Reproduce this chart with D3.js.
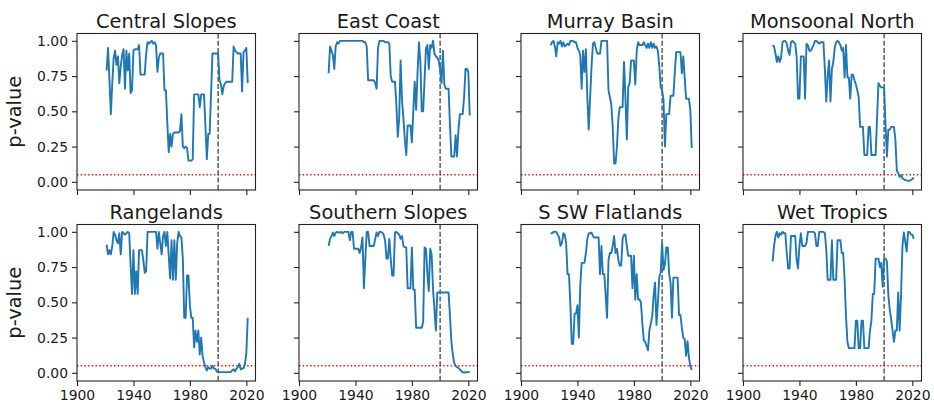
<!DOCTYPE html>
<html>
<head>
    <title>p-value by region</title>
    <script src="https://d3js.org/d3.v7.min.js"></script>
    <style>
        body {
            margin: 0;
            background-color: white;
        }
        svg text {
            font-family: "DejaVu Sans", sans-serif;
            fill: #1a1a1a;
        }
    </style>
</head>
<body>
    <div id="chart"></div>
    <script>
        // Chart data: one p-value per year, 1921-2021
        const startYear = 1921;
        const regions = ['Central Slopes', 'East Coast', 'Murray Basin', 'Monsoonal North',
                         'Rangelands', 'Southern Slopes', 'S SW Flatlands', 'Wet Tropics'];
        const centralSlopes = [
            0.79, 0.95, 0.72, 0.48, 0.70, 0.88, 0.93, 0.83, 0.89, 0.70,
            0.82, 0.90, 0.94, 0.66, 0.93, 0.79, 0.91, 0.63, 0.65, 0.93,
            0.94, 0.94, 0.94, 0.97, 0.76, 0.76, 0.76, 0.76, 0.91, 0.99,
            0.98, 0.99, 1.00, 0.98, 0.99, 0.97, 0.78, 0.88, 0.91, 0.91,
            0.91, 0.65, 0.65, 0.42, 0.21, 0.34, 0.25, 0.34, 0.35, 0.35,
            0.35, 0.35, 0.36, 0.48, 0.25, 0.24, 0.25, 0.24, 0.15, 0.15,
            0.15, 0.16, 0.62, 0.62, 0.62, 0.62, 0.53, 0.62, 0.62, 0.62,
            0.40, 0.16, 0.34, 0.34, 0.62, 0.91, 0.91, 0.91, 0.91, 0.91,
            0.72, 0.69, 0.62, 0.68, 0.70, 0.71, 0.71, 0.71, 0.71, 0.71,
            0.96, 0.93, 0.92, 0.91, 0.91, 0.91, 0.64, 0.92, 0.93, 0.95, 0.70
        ];
        const eastCoast = [
            0.77, 0.96, 0.93, 0.90, 0.80, 0.96, 0.99, 0.98, 1.00, 1.00,
            1.00, 1.00, 1.00, 1.00, 1.00, 1.00, 1.00, 1.00, 1.00, 1.00,
            1.00, 1.00, 1.00, 1.00, 1.00, 0.99, 0.99, 0.96, 0.72, 0.72,
            0.72, 0.72, 0.72, 0.70, 0.66, 0.95, 1.00, 1.00, 1.00, 1.00,
            0.99, 0.99, 0.99, 0.98, 0.75, 0.71, 0.71, 0.71, 0.55, 0.32,
            0.45, 0.86, 0.58, 0.45, 0.30, 0.19, 0.40, 0.40, 0.40, 0.28,
            0.50, 0.71, 0.51, 0.77, 0.99, 0.85, 0.50, 0.50, 0.73, 0.95,
            0.97, 0.80, 0.97, 0.95, 1.00, 0.91, 0.89, 0.88, 0.86, 0.80,
            0.70, 0.93, 0.69, 0.66, 0.66, 0.66, 0.40, 0.18, 0.18, 0.18,
            0.33, 0.18, 0.37, 0.48, 0.48, 0.48, 0.60, 0.80, 0.80, 0.78, 0.47
        ];
        const murrayBasin = [
            0.97, 0.99, 1.00, 0.96, 0.89, 0.99, 0.98, 1.00, 0.96, 0.99,
            0.96, 0.97, 0.98, 0.97, 1.00, 1.00, 1.00, 0.99, 0.99, 0.95,
            0.93, 0.90, 0.66, 0.93, 0.78, 0.94, 0.60, 0.37, 0.60, 0.82,
            0.98, 0.99, 0.95, 0.91, 0.91, 0.91, 1.00, 1.00, 1.00, 1.00,
            1.00, 0.65, 0.60, 0.55, 0.39, 0.13, 0.13, 0.25, 0.45, 0.53,
            0.53, 0.53, 0.85, 0.60, 0.30, 0.67, 0.70, 0.86, 0.86, 0.86,
            0.69, 0.93, 0.99, 0.97, 0.97, 0.97, 0.99, 0.97, 0.95, 0.98,
            0.95, 0.99, 0.95, 0.98, 0.95, 0.96, 0.93, 0.82, 0.67, 0.65,
            0.58, 0.25, 0.48, 0.48, 0.48, 0.61, 0.61, 0.61, 0.78, 0.92,
            0.92, 0.92, 0.92, 0.77, 0.89, 0.74, 0.59, 0.59, 0.59, 0.51, 0.24
        ];
        const monsoonalNorth = [
            0.97, 0.96, 0.91, 0.85, 0.89, 0.85, 0.88, 0.99, 1.00, 1.00,
            0.98, 0.93, 0.90, 0.99, 1.00, 0.99, 0.98, 0.89, 0.59, 0.59,
            0.89, 0.89, 0.89, 0.59, 0.98, 0.97, 0.93, 0.93, 0.95, 0.97,
            1.00, 1.00, 0.99, 0.98, 0.99, 0.99, 0.99, 0.80, 0.57, 0.75,
            0.86, 0.57, 0.80, 0.85, 0.95, 0.99, 1.00, 0.99, 0.97, 0.93,
            0.95, 0.74, 0.97, 0.74, 0.74, 0.59, 0.76, 0.76, 0.72, 0.69,
            0.65, 0.60, 0.39, 0.39, 0.39, 0.19, 0.19, 0.19, 0.39, 0.39,
            0.19, 0.19, 0.19, 0.19, 0.45, 0.70, 0.68, 0.67, 0.67, 0.67,
            0.40, 0.18, 0.37, 0.37, 0.39, 0.39, 0.39, 0.30, 0.08, 0.06,
            0.035, 0.047, 0.024, 0.018, 0.012, 0.01, 0.007, 0.008, 0.012, 0.02, 0.03
        ];
        const rangelands = [
            0.91, 0.84, 0.87, 0.84, 0.90, 1.00, 0.98, 0.94, 0.92, 0.99,
            0.84, 1.00, 0.99, 0.98, 0.99, 1.00, 0.99, 0.76, 0.56, 0.87,
            0.56, 0.72, 0.56, 0.87, 0.87, 0.87, 0.80, 0.71, 0.72, 1.00,
            1.00, 1.00, 1.00, 1.00, 1.00, 1.00, 0.88, 1.00, 0.92, 0.84,
            0.97, 1.00, 0.90, 1.00, 0.83, 0.67, 0.94, 0.66, 0.94, 0.66,
            0.92, 1.00, 0.97, 0.96, 0.81, 0.39, 0.39, 0.69, 0.69, 0.48,
            0.39, 0.39, 0.18, 0.30, 0.22, 0.30, 0.13, 0.25, 0.12, 0.075,
            0.04, 0.017, 0.04, 0.03, 0.03, 0.05, 0.03, 0.03, 0.01, 0.005,
            0.005, 0.005, 0.005, 0.005, 0.005, 0.005, 0.005, 0.005, 0.006, 0.017,
            0.025, 0.01, 0.03, 0.04, 0.064, 0.025, 0.03, 0.033, 0.06, 0.14, 0.39
        ];
        const southernSlopes = [
            0.90, 0.95, 0.97, 0.995, 0.97, 0.995, 1.00, 0.995, 0.995, 1.00,
            0.99, 1.00, 1.00, 1.00, 1.00, 0.94, 1.00, 1.00, 0.88, 0.88,
            0.88, 0.88, 0.85, 0.89, 0.96, 0.60, 0.81, 1.00, 1.00, 0.90,
            0.90, 0.90, 0.90, 0.95, 0.995, 0.97, 1.00, 1.00, 0.995, 0.98,
            0.94, 0.81, 0.81, 0.95, 0.81, 0.69, 0.69, 0.995, 1.00, 0.99,
            0.98, 0.95, 0.97, 0.90, 0.89, 0.89, 0.60, 0.60, 0.60, 0.89,
            0.59, 0.59, 0.32, 0.32, 0.32, 0.32, 0.32, 0.36, 0.89, 0.88,
            0.70, 0.58, 0.88, 0.84, 0.59, 0.45, 0.30, 0.57, 0.57, 0.57,
            0.57, 0.57, 0.57, 0.57, 0.57, 0.57, 0.40, 0.22, 0.13, 0.07,
            0.05, 0.04, 0.035, 0.025, 0.012, 0.005, 0.002, 0.004, 0.005, 0.005, 0.005
        ];
        const sswFlatlands = [
            0.99, 0.99, 1.00, 1.00, 1.00, 0.98, 0.96, 0.90, 0.92, 0.99,
            0.98, 0.92, 0.70, 0.70, 0.48, 0.205, 0.205, 0.42, 0.42, 0.48,
            0.25, 0.62, 0.78, 0.78, 0.78, 0.85, 0.95, 0.99, 0.99, 0.995,
            0.97, 0.96, 0.96, 0.96, 0.96, 0.70, 0.90, 0.70, 0.70, 0.55,
            0.39, 0.80, 0.85, 0.85, 0.90, 0.97, 0.85, 0.88, 0.80, 0.76,
            0.76, 0.95, 0.98, 0.98, 0.90, 0.83, 0.83, 0.83, 0.60, 0.83,
            0.52, 0.70, 0.52, 0.52, 0.50, 0.35, 0.23, 0.22, 0.19, 0.16,
            0.30, 0.35, 0.40, 0.55, 0.64, 0.34, 0.50, 0.68, 0.71, 0.92,
            0.73, 0.77, 0.89, 0.89, 0.70, 0.64, 0.39, 0.675, 0.675, 0.675,
            0.675, 0.41, 0.41, 0.32, 0.25, 0.24, 0.12, 0.225, 0.11, 0.047, 0.02
        ];
        const wetTropics = [
            0.79, 0.90, 0.97, 1.00, 0.96, 0.99, 0.98, 1.00, 0.99, 0.99,
            0.85, 0.74, 0.74, 0.97, 0.97, 0.97, 0.97, 0.80, 0.74, 0.90,
            0.99, 0.90, 0.90, 0.90, 0.92, 1.00, 1.00, 1.00, 1.00, 1.00,
            0.99, 0.90, 0.90, 1.00, 1.00, 1.00, 1.00, 0.99, 0.88, 0.66,
            0.66, 0.66, 0.94, 0.66, 0.66, 0.66, 0.94, 0.94, 0.94, 0.85,
            0.85, 0.66, 0.40, 0.22, 0.175, 0.175, 0.175, 0.175, 0.175, 0.37,
            0.37, 0.175, 0.175, 0.37, 0.37, 0.175, 0.175, 0.175, 0.175, 0.30,
            0.37, 0.56, 0.56, 0.81, 0.81, 0.81, 0.75, 0.78, 0.61, 0.81,
            0.81, 0.79, 0.55, 0.45, 0.38, 0.30, 0.22, 0.30, 0.30, 0.57,
            0.30, 0.55, 0.90, 0.995, 0.93, 0.86, 1.00, 1.00, 0.98, 0.98, 0.95
        ];
        const seriesList = [centralSlopes, eastCoast, murrayBasin, monsoonalNorth,
                            rangelands, southernSlopes, sswFlatlands, wetTropics];
        const yTicks = [0, 0.25, 0.5, 0.75, 1.0];
        const xTicks = [1900, 1940, 1980, 2020];
        const breakYear = 2000;   // vertical dashed line
        const alpha = 0.05;       // significance level

        const width = 934, height = 404;
        const panelW = 178.5, panelH = 156.5;
        const lefts = [77, 299, 521, 743];
        const tops = [33.5, 224.5];

        const svg = d3.select('#chart')
            .append('svg')
            .attr('width', width)
            .attr('height', height);

        const x = d3.scaleLinear().domain([1900, 2026.5]).range([0, panelW]);
        const y = d3.scaleLinear().domain([-0.058, 1.052]).range([panelH, 0]);

        const line = d3.line()
            .x((d, i) => x(startYear + i))
            .y(d => y(d));

        regions.forEach((name, k) => {
            const col = k % 4, row = Math.floor(k / 4);
            const g = svg.append('g')
                .attr('transform', `translate(${lefts[col]},${tops[row]})`);

            // significance line
            g.append('line')
                .attr('x1', 0).attr('x2', panelW)
                .attr('y1', y(alpha)).attr('y2', y(alpha))
                .attr('stroke', 'red')
                .attr('stroke-width', 1.4)
                .attr('stroke-dasharray', '1.4,2.3');

            // 2000 marker
            g.append('line')
                .attr('x1', x(breakYear)).attr('x2', x(breakYear))
                .attr('y1', 0).attr('y2', panelH)
                .attr('stroke', '#333')
                .attr('stroke-width', 1.2)
                .attr('stroke-dasharray', '5,2.2');

            g.append('path')
                .datum(seriesList[k])
                .attr('fill', 'none')
                .attr('stroke', '#1f77b4')
                .attr('stroke-width', 1.9)
                .attr('stroke-linejoin', 'round')
                .attr('d', line);

            // axes
            const yAxis = d3.axisLeft(y).tickValues(yTicks)
                .tickSize(5).tickPadding(4)
                .tickFormat(col === 0 ? d3.format('.2f') : '');
            const xAxis = d3.axisBottom(x).tickValues(xTicks)
                .tickSize(5).tickPadding(4)
                .tickFormat(row === 1 ? d3.format('d') : '');

            const ya = g.append('g').call(yAxis);
            const xa = g.append('g').attr('transform', `translate(0,${panelH})`).call(xAxis);
            [ya, xa].forEach(a => {
                a.select('.domain').remove();
                a.selectAll('line').attr('stroke', '#222').attr('stroke-width', 1.1);
                a.selectAll('text').style('font-size', '13.9px').attr('fill', '#1a1a1a');
            });

            // frame
            g.append('rect')
                .attr('width', panelW).attr('height', panelH)
                .attr('fill', 'none')
                .attr('stroke', '#222')
                .attr('stroke-width', 1.1);

            g.append('text')
                .attr('x', panelW / 2)
                .attr('y', -6)
                .attr('text-anchor', 'middle')
                .style('font-size', '19.4px')
                .text(name);

            if (col === 0) {
                g.append('text')
                    .attr('transform', `translate(${-56},${panelH / 2}) rotate(-90)`)
                    .attr('text-anchor', 'middle')
                    .style('font-size', '19.4px')
                    .text('p-value');
            }
        });
    </script>
</body>
</html>
